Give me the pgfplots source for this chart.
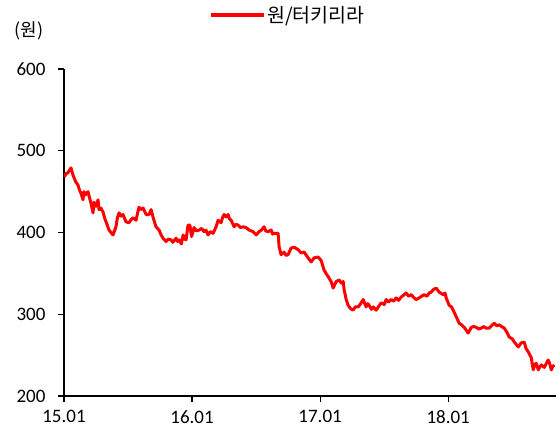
\documentclass[border=0pt]{standalone}
\usepackage{pgfplots}
\pgfplotsset{compat=1.18}
\usepackage{fontspec}
\setmainfont{Carlito}
\newfontfamily\kr{Noto Sans CJK KR}
\begin{document}
\begin{tikzpicture}
\path[use as bounding box] (-64bp,-33bp) rectangle (496bp,396bp);
\begin{axis}[
  at={(0,0)}, anchor=south west,
  scale only axis, width=492bp, height=327bp,
  xmin=0, xmax=46.1, ymin=200, ymax=600,
  axis x line=bottom, axis y line=left,
  axis line style={-, black, line width=1.2bp},
  xtick={0,12,24,36}, xticklabels={15.01,16.01,17.01,18.01},
  ytick={200,300,400,500,600},
  tick align=outside, major tick length=6bp,
  tick style={black, line width=1.2bp},
  /pgf/number format/assume math mode=true,
  ticklabel style={font=\fontsize{19bp}{22bp}\selectfont, text=black},
  yticklabel style={xshift=-9bp},
  xticklabel style={yshift=-5bp},
  legend style={at={(axis description cs:0.455,1)}, anchor=center, yshift=54bp,
    draw=none, fill=none, font=\kr\fontsize{19.5bp}{22bp}\selectfont,
    inner sep=0pt},
  legend image code/.code={\draw[#1] (0bp,0bp) -- (53bp,0bp);},
  clip=false,
]
\addplot[red, line width=3bp, line join=round] coordinates {
(0.05,468) (0.19,472) (0.37,473) (0.5,476) (0.66,479) (0.8,472) (0.94,467) (1.1,462) (1.31,458) (1.45,452) (1.59,448)
(1.78,440) (1.87,450) (2.0,446) (2.25,450) (2.4,442) (2.53,436) (2.72,424) (2.81,437) (3.0,432) (3.19,440)
(3.28,428) (3.45,430) (3.66,425) (3.8,418) (3.94,413) (4.22,403) (4.4,400) (4.59,397) (4.87,407) (5.0,418) (5.16,424)
(5.35,420) (5.53,422) (5.81,413) (6.09,412) (6.3,416) (6.47,418) (6.75,415) (6.9,424) (7.03,431) (7.2,428) (7.41,430)
(7.69,422) (7.97,422) (8.16,428) (8.34,419) (8.5,412) (8.62,407) (8.91,403) (9.1,397) (9.28,393)
(9.56,389) (9.8,392) (10.03,391) (10.2,388) (10.5,393) (10.65,389) (10.78,391) (11.0,386) (11.16,397) (11.3,392) (11.44,391) (11.62,409)
(11.8,409) (11.95,395) (12.19,406) (12.4,402) (12.66,403) (12.9,405) (13.12,401) (13.3,403) (13.5,397) (13.7,401) (13.97,399)
(14.25,407) (14.44,415) (14.72,412) (14.85,418) (15.0,422) (15.2,419) (15.37,422) (15.5,417) (15.66,415) (15.94,407)
(16.1,410) (16.31,409) (16.55,406) (16.78,407) (17.06,406) (17.34,403) (17.72,401) (18.0,397) (18.28,401)
(18.5,403) (18.75,407) (18.9,402) (19.12,401) (19.41,403) (19.55,398) (19.69,399) (20.06,399) (20.16,382) (20.34,373)
(20.62,376) (20.8,372) (21.0,373) (21.28,381) (21.56,382) (21.94,379) (22.22,375) (22.5,376)
(22.87,369) (23.16,364) (23.44,369) (23.81,370) (24.09,366) (24.37,354) (24.55,350) (24.75,346)
(25.03,340) (25.22,332) (25.5,340) (25.78,342) (26.0,338) (26.16,340) (26.25,330) (26.44,318)
(26.62,311) (26.85,307) (27.09,305) (27.3,309) (27.56,309) (27.8,313) (28.03,318) (28.31,309) (28.45,313) (28.59,311) (28.8,306) (28.97,309)
(29.25,305) (29.5,310) (29.72,314) (30.0,312) (30.19,318) (30.4,315) (30.66,318) (30.9,316) (31.12,320) (31.35,317) (31.59,321) (32.06,326)
(32.3,322) (32.53,324) (32.8,320) (33.0,318) (33.28,320) (33.5,322) (33.75,324) (34.0,322) (34.22,326) (34.4,327) (34.59,330) (34.87,332)
(35.16,327) (35.53,324) (35.7,326) (35.81,320) (36.09,311) (36.3,309) (36.47,305) (36.75,297) (37.03,289)
(37.25,287) (37.5,284) (37.87,277) (38.16,284) (38.4,285) (38.62,284) (38.85,282) (39.09,283) (39.3,285) (39.56,283) (39.84,283)
(40.05,286) (40.31,289) (40.55,286) (40.78,287) (41.0,285) (41.25,283) (41.5,278) (41.72,272) (42.0,270) (42.19,266) (42.56,260) (42.84,265)
(43.12,266) (43.3,258) (43.5,254) (43.78,247) (43.97,232) (44.1,238) (44.25,240) (44.44,232) (44.6,236) (44.72,238)
(45.0,235) (45.2,240) (45.37,244) (45.5,240) (45.66,232) (45.8,236) (45.95,238)
};
\addlegendentry{원/터키리라}
\node[font=\kr\fontsize{18bp}{21bp}\selectfont, anchor=center] at (rel axis cs:0,1) [xshift=-35bp, yshift=38bp] {(원)};
\end{axis}
\end{tikzpicture}
\end{document}
